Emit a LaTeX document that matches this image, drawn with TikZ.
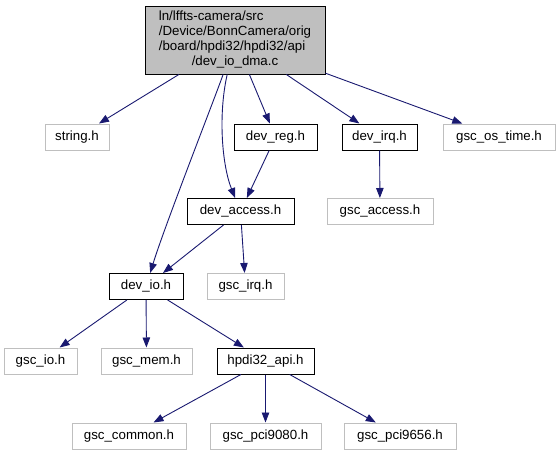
\documentclass[tikz,border=0pt]{standalone}
\usepackage{fontspec}
\setmainfont{Liberation Sans}
\usepackage{tikz}
\usetikzlibrary{arrows.meta}
\definecolor{edgeblue}{HTML}{191970}
\definecolor{boxgray}{HTML}{BFBFBF}

\begin{document}
\begin{tikzpicture}[x=1pt,y=-1pt,
    every node/.style={font=\fontsize{13.3}{15}\selectfont, minimum height=26pt,
      inner xsep=0pt, inner ysep=3pt, line width=1pt},
    doc/.style={draw=black},
    ext/.style={draw=boxgray},
    dep/.style={draw=edgeblue, line width=0.9pt, -{Triangle[length=10pt,width=7.5pt]}}]
  \useasboundingbox (0,0) rectangle (557,455);
  \node[doc, fill=boxgray, minimum width=180pt, minimum height=68pt] (root) at (235,40)
    {\begin{tabular}{@{}l@{}}ln/lffts-camera/src\\/Device/BonnCamera/orig\\
      /board/hpdi32/hpdi32/api\\\multicolumn{1}{@{}c@{}}{/dev\_io\_dma.c}\end{tabular}};
  \node[ext, minimum width=64pt] (string) at (77,137) {string.h};
  \node[doc, minimum width=83pt] (devreg) at (275.5,137) {dev\_reg.h};
  \node[doc, minimum width=75pt] (devirq) at (379.5,137) {dev\_irq.h};
  \node[ext, minimum width=112pt] (ostime) at (499,137) {gsc\_os\_time.h};
  \node[doc, minimum width=107pt] (devaccess) at (240.5,211.5) {dev\_access.h};
  \node[ext, minimum width=106pt] (gscaccess) at (380,211.5) {gsc\_access.h};
  \node[doc, minimum width=74pt] (devio) at (146,286.5) {dev\_io.h};
  \node[ext, minimum width=77pt] (gscirq) at (245.5,286.5) {gsc\_irq.h};
  \node[ext, minimum width=73pt] (gscio) at (40.5,361) {gsc\_io.h};
  \node[ext, minimum width=91pt] (gscmem) at (146.5,361) {gsc\_mem.h};
  \node[doc, minimum width=97pt] (hpdi) at (265.5,361) {hpdi32\_api.h};
  \node[ext, minimum width=114pt] (common) at (129,436) {gsc\_common.h};
  \node[ext, minimum width=111pt] (pcia) at (265.5,436) {gsc\_pci9080.h};
  \node[ext, minimum width=112pt] (pcib) at (400,436) {gsc\_pci9656.h};

  \draw[dep] (root) -- (string);
  \draw[dep] (root) .. controls (216,95) and (165,225) .. (devio);
  \draw[dep] (root) .. controls (218,115) and (222,165) .. (devaccess);
  \draw[dep] (root) -- (devreg);
  \draw[dep] (root) -- (devirq);
  \draw[dep] (root) -- (ostime);
  \draw[dep] (devreg) -- (devaccess);
  \draw[dep] (devirq) -- (gscaccess);
  \draw[dep] (devaccess) -- (devio);
  \draw[dep] (devaccess) -- (gscirq);
  \draw[dep] (devio) -- (gscio);
  \draw[dep] (devio) -- (gscmem);
  \draw[dep] (devio) -- (hpdi);
  \draw[dep] (hpdi) -- (common);
  \draw[dep] (hpdi) -- (pcia);
  \draw[dep] (hpdi) -- (pcib);
\end{tikzpicture}
\end{document}
